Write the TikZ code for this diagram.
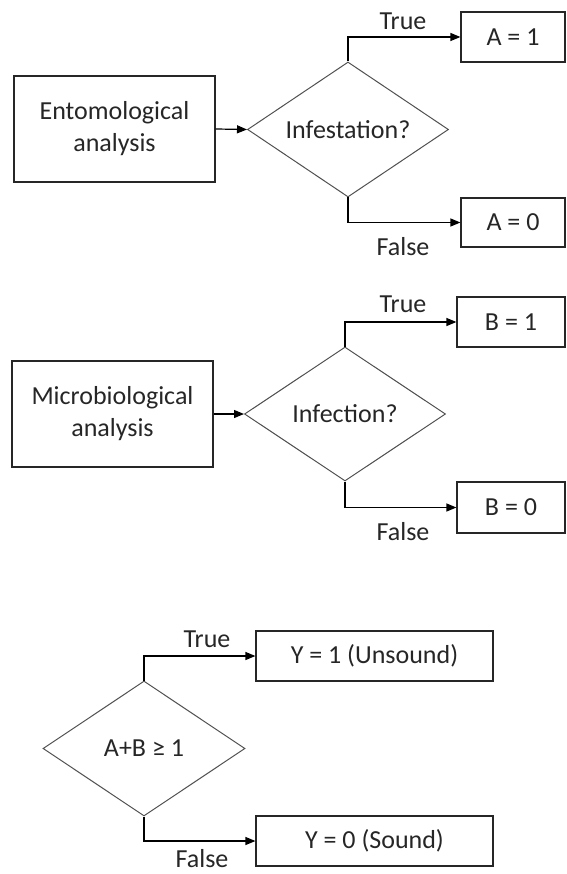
\documentclass[tikz,border=0pt]{standalone}
\usepackage{fontspec}
\setmainfont{Carlito}
\usetikzlibrary{shapes.geometric,arrows.meta}
\definecolor{boxline}{RGB}{38,38,38}
\definecolor{dialine}{RGB}{80,80,80}
\definecolor{txt}{RGB}{38,38,38}
\tikzset{
  every node/.style={font=\fontsize{26}{32}\selectfont, text=txt},
  procbox/.style={draw=boxline, line width=1.2pt, rectangle, inner sep=0pt, align=center},
  decision/.style={draw=dialine, line width=1pt, diamond, inner sep=0pt, aspect=1.49},
  conn/.style={draw=black, line width=1.2pt, -{Triangle[length=10pt,width=8pt]}},
  lbl/.style={inner sep=0pt}
}
\begin{document}
\begin{tikzpicture}[x=1pt,y=-1pt]
\useasboundingbox (0,0) rectangle (566,874);

% Section 1
\node[procbox, minimum width=201pt, minimum height=106pt] (ent) at (114.5,129) {Entomological\\analysis};
\node[decision, minimum width=201pt, minimum height=135pt] (dia1) at (348,129.5) {Infestation?};
\node[procbox, minimum width=104pt, minimum height=50pt] (a1) at (513,37) {A = 1};
\node[procbox, minimum width=104pt, minimum height=49pt] (a0) at (513,222.5) {A = 0};
\node[lbl] (t1) at (403,21) {True};
\node[lbl] (f1) at (403,247) {False};
\draw[conn] (ent.east) -- (dia1.west);
\draw[conn] (dia1.north) |- (a1.west);
\draw[conn] (dia1.south) |- (a0.west);

% Section 2
\node[procbox, minimum width=201pt, minimum height=106pt] (mic) at (112.5,414) {Microbiological\\analysis};
\node[decision, minimum width=201pt, minimum height=134pt] (dia2) at (345,414) {Infection?};
\node[procbox, minimum width=108pt, minimum height=50pt] (b1) at (511,322) {B = 1};
\node[procbox, minimum width=108pt, minimum height=51pt] (b0) at (511,507.5) {B = 0};
\node[lbl] (t2) at (403,304) {True};
\node[lbl] (f2) at (403,532) {False};
\draw[conn] (mic.east) -- (dia2.west);
\draw[conn] (dia2.north) |- (b1.west);
\draw[conn] (dia2.south) |- (b0.west);

% Section 3
\node[decision, minimum width=202pt, minimum height=135pt] (dia3) at (144,748.5) {A+B ≥ 1};
\node[procbox, minimum width=237pt, minimum height=50pt] (y1) at (374.5,656) {Y = 1 (Unsound)};
\node[procbox, minimum width=237pt, minimum height=50pt] (y0) at (374.5,841) {Y = 0 (Sound)};
\node[lbl] (t3) at (207,639) {True};
\node[lbl] (f3) at (202,859) {False};
\draw[conn] (dia3.north) |- (y1.west);
\draw[conn] (dia3.south) |- (y0.west);
\end{tikzpicture}
\end{document}
